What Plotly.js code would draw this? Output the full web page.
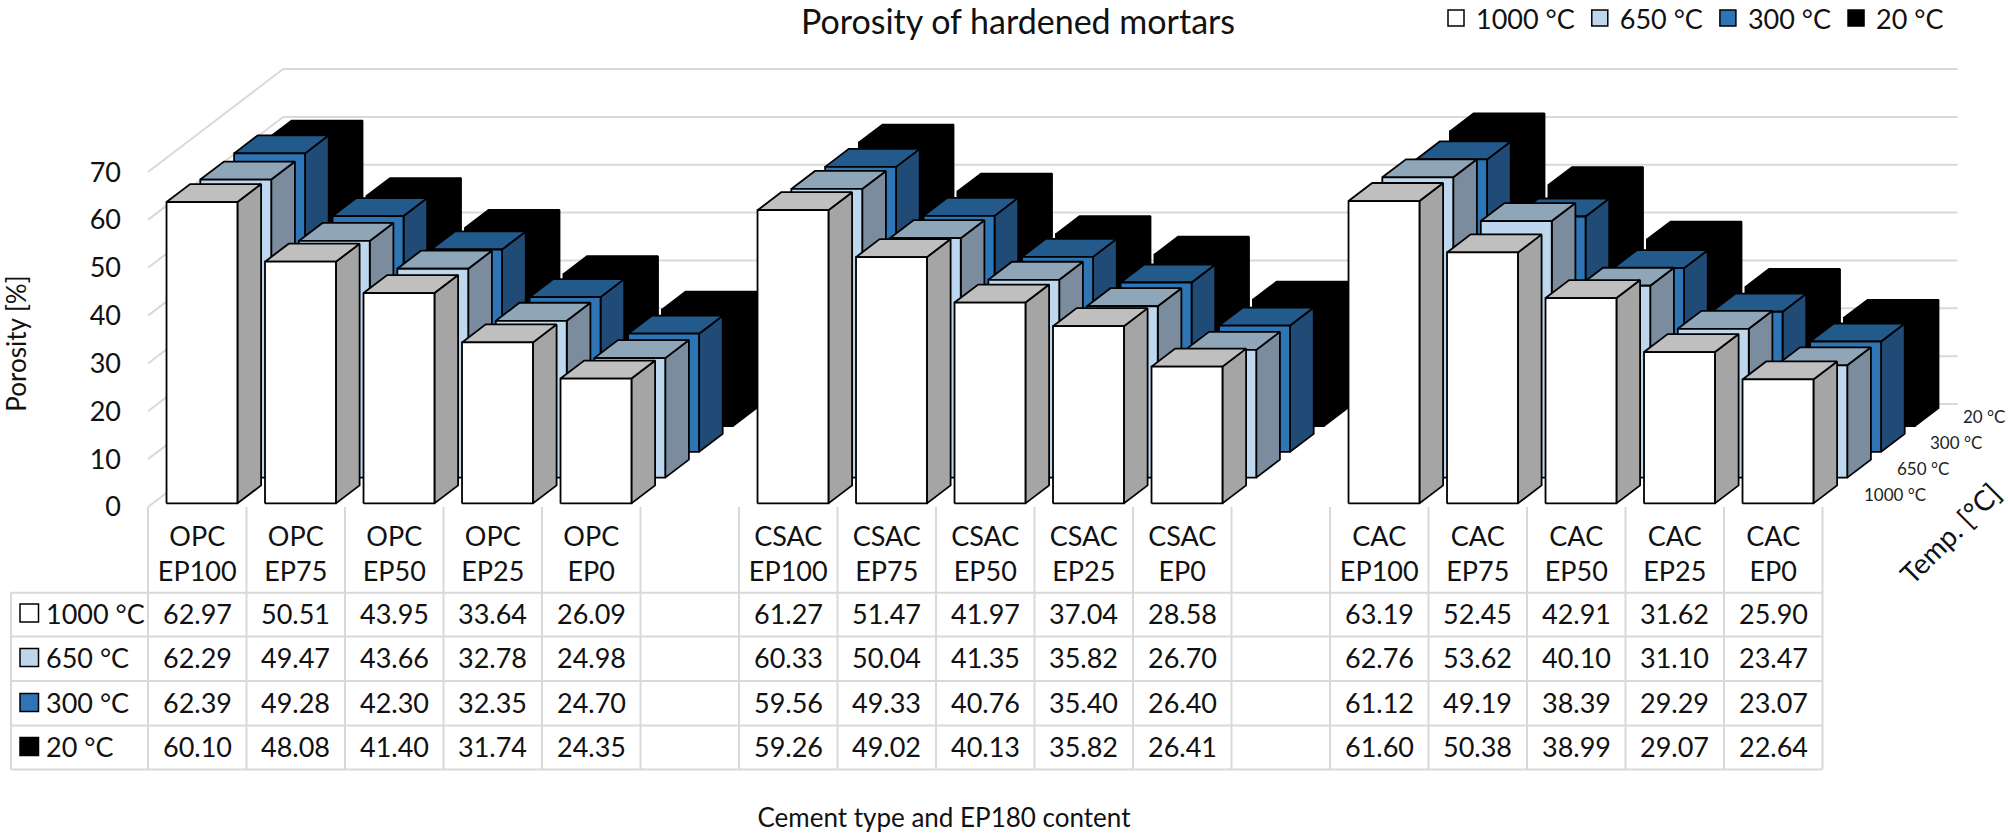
<!DOCTYPE html>
<html><head><meta charset="utf-8">
<script src="https://cdn.plot.ly/plotly-3.0.1.min.js"></script>
<style>html,body{margin:0;padding:0;background:#fff}</style></head>
<body><div id="chart" style="width:2008px;height:835px"></div>
<script>
// ---------- data ----------
const cements = ["OPC", "CSAC", "CAC"];
const contents = ["EP100", "EP75", "EP50", "EP25", "EP0"];
const temperatures = ["1000 °C", "650 °C", "300 °C", "20 °C"];
const values1000 = [62.97,50.51,43.95,33.64,26.09, 61.27,51.47,41.97,37.04,28.58, 63.19,52.45,42.91,31.62,25.90];
const values650  = [62.29,49.47,43.66,32.78,24.98, 60.33,50.04,41.35,35.82,26.70, 62.76,53.62,40.10,31.10,23.47];
const values300  = [62.39,49.28,42.30,32.35,24.70, 59.56,49.33,40.76,35.40,26.40, 61.12,49.19,38.39,29.29,23.07];
const values20   = [60.10,48.08,41.40,31.74,24.35, 59.26,49.02,40.13,35.82,26.41, 61.60,50.38,38.99,29.07,22.64];
const yTicks = [0,10,20,30,40,50,60,70];
const faceFront = ["#ffffff","#bdd7ee","#2e75b6","#000000"];
const faceTop   = ["#bfbfbf","#8fa5b8","#235a8c","#000000"];
const faceSide  = ["#a5a5a5","#7a8c9d","#1f4b76","#000000"];

// ---------- geometry of the oblique view ----------
const W = 2008, H = 835;
const FONT = "Lato, 'Open Sans', sans-serif";
const cellPx = 98.5, unitPx = 4.785, originX = 148, originY = 507, plotBottom = 687;
const depthX = 33.8 / cellPx, depthY = 25.75 / unitPx;
const series = [values1000, values650, values300, values20];
const nCells = 17, nDepth = 4;
const project = (i, d, v) => [i + d * depthX, v + d * depthY];
const cellOf = k => Math.floor(k / 5) * 6 + (k % 5);
const pxX = p => (p - originX) / cellPx;
const pxPaper = p => (H - p) / H;
const rowLines = [592.7, 636.5, 681, 725.5, 769.5];
const rowCentre = [613, 657.5, 702.5, 746.5];

function polys(vals, r, face) {
  const xs = [], ys = [];
  vals.forEach((v, k) => {
    const c = cellOf(k), i0 = c + 0.14, i1 = c + 0.86, d0 = r + 0.14, d1 = r + 0.84;
    const pts = face === "front" ? [[i0,d0,0],[i1,d0,0],[i1,d0,v],[i0,d0,v],[i0,d0,0]]
      : face === "side" ? [[i1,d0,0],[i1,d1,0],[i1,d1,v],[i1,d0,v],[i1,d0,0]]
      : [[i0,d0,v],[i1,d0,v],[i1,d1,v],[i0,d1,v],[i0,d0,v]];
    pts.forEach(p => { const q = project(p[0], p[1], p[2]); xs.push(q[0]); ys.push(q[1]); });
    xs.push(null); ys.push(null);
  });
  return {x: xs, y: ys};
}

const traces = [];
// legend entries
temperatures.forEach((t, r) => traces.push({
  x: [null], y: [null], type: "scatter", mode: "markers", name: t, showlegend: true,
  marker: {symbol: "square", size: 19, color: faceFront[r], line: {color: "#000", width: 1.5}}
}));
// wall gridlines
const gx = [], gy = [];
yTicks.forEach(v => {
  [[0,0],[0,nDepth],[nCells,nDepth]].forEach(a => { const q = project(a[0], a[1], v); gx.push(q[0]); gy.push(q[1]); });
  gx.push(null); gy.push(null);
});
traces.push({x: gx, y: gy, type: "scatter", mode: "lines", showlegend: false, line: {color: "#d9d9d9", width: 2}});
// bars, back to front
for (let r = nDepth - 1; r >= 0; r--) {
  [["side", faceSide], ["top", faceTop], ["front", faceFront]].forEach(f => {
    const p = polys(series[r], r, f[0]);
    traces.push({x: p.x, y: p.y, type: "scatter", mode: "lines", fill: "toself", fillcolor: f[1][r],
      showlegend: false, name: temperatures[r] + " " + f[0], line: {color: "#000", width: 1.8}});
  });
}
// carrier of the x title
traces.push({x: [null], y: [null], xaxis: "x2", yaxis: "y", type: "scatter", mode: "markers", showlegend: false});

// table lines and keys
const shapes = [];
const tline = (x0, y0, x1, y1) => shapes.push({type: "line", layer: "below", xref: "x", yref: "paper",
  x0, x1, y0: pxPaper(y0), y1: pxPaper(y1), line: {color: "#d9d9d9", width: 2}});
rowLines.forEach(p => tline(pxX(11), p, nCells, p));
tline(pxX(11), rowLines[0], pxX(11), rowLines[4]);
for (let i = 0; i <= nCells; i++) tline(i, originY, i, rowLines[4]);
rowCentre.forEach((p, r) => shapes.push({type: "rect", layer: "above", xref: "x", yref: "paper",
  x0: pxX(20), x1: pxX(38.5), y0: pxPaper(p + 9), y1: pxPaper(p - 9),
  fillcolor: faceFront[r], line: {color: "#000", width: 1.5}}));

// table texts
const annotations = [];
temperatures.forEach((t, r) => {
  annotations.push({text: t, xref: "x", yref: "paper", x: pxX(44), y: pxPaper(rowCentre[r]), xanchor: "left", yanchor: "middle",
    showarrow: false, font: {family: FONT, size: 27, color: "#111"}});
  series[r].forEach((v, k) => annotations.push({text: v.toFixed(2), xref: "x", yref: "paper", x: cellOf(k) + 0.5,
    y: pxPaper(rowCentre[r]), xanchor: "center", yanchor: "middle", showarrow: false, font: {family: FONT, size: 27, color: "#111"}}));
  // depth axis labels
  const q = project(nCells, r + 0.5, 0);
  annotations.push({text: t, xref: "x", yref: "y", x: q[0] + (23 - r) / cellPx, y: q[1], xanchor: "left", yanchor: "middle",
    showarrow: false, font: {family: FONT, size: 17, color: "#222"}});
});
annotations.push({text: "Temp. [°C]", xref: "paper", yref: "paper", x: 1950 / W, y: pxPaper(533), xanchor: "center", yanchor: "middle", textangle: -45,
  showarrow: false, font: {family: FONT, size: 28, color: "#111"}});

// category ticks
const tickCells = [], tickText = [];
cements.forEach((c, g) => contents.forEach((e, k) => { tickCells.push(g * 6 + k + 0.5); tickText.push(c + "<br>" + e); }));

Plotly.newPlot("chart", traces, {
  width: W, height: H, margin: {l: 0, r: 0, t: 0, b: 0, autoexpand: false}, paper_bgcolor: "#fff", plot_bgcolor: "rgba(0,0,0,0)",
  hovermode: false, showlegend: true,
  title: {text: "Porosity of hardened mortars", x: 1018 / W, xanchor: "center", y: 1 - 22 / H, yanchor: "middle",
    font: {family: FONT, size: 34, color: "#111"}},
  legend: {orientation: "h", x: 1436 / W, xanchor: "left", y: 1 + 6 / H, yanchor: "top", bgcolor: "rgba(0,0,0,0)",
    font: {family: FONT, size: 27, color: "#111"}, itemclick: false, itemdoubleclick: false},
  xaxis: {domain: [0, 1], range: [pxX(0), pxX(W)], anchor: "free", position: pxPaper(originY), showgrid: false, zeroline: false,
    showline: false, ticks: "", tickmode: "array", tickvals: tickCells, ticktext: tickText, ticklabelstandoff: 11,
    tickangle: 0, tickfont: {family: FONT, size: 27, color: "#111"}},
  xaxis2: {domain: [66 / W, 1822 / W], range: [0, 1], anchor: "free", position: pxPaper(800), showgrid: false, zeroline: false,
    showline: false, ticks: "", showticklabels: false,
    title: {text: "Cement type and EP180 content", standoff: 8, font: {family: FONT, size: 26, color: "#111"}}},
  yaxis: {domain: [pxPaper(plotBottom), 1], range: [(originY - plotBottom) / unitPx, originY / unitPx], anchor: "free", position: originX / W,
    showgrid: false, zeroline: false, showline: false, ticks: "", tickmode: "array", tickvals: yTicks, ticklabelstandoff: 27,
    tickfont: {family: FONT, size: 27, color: "#111"},
    title: {text: "Porosity [%]", standoff: 60, font: {family: FONT, size: 26, color: "#111"}}},
  shapes, annotations
}, {displayModeBar: false, responsive: false});
</script></body></html>
